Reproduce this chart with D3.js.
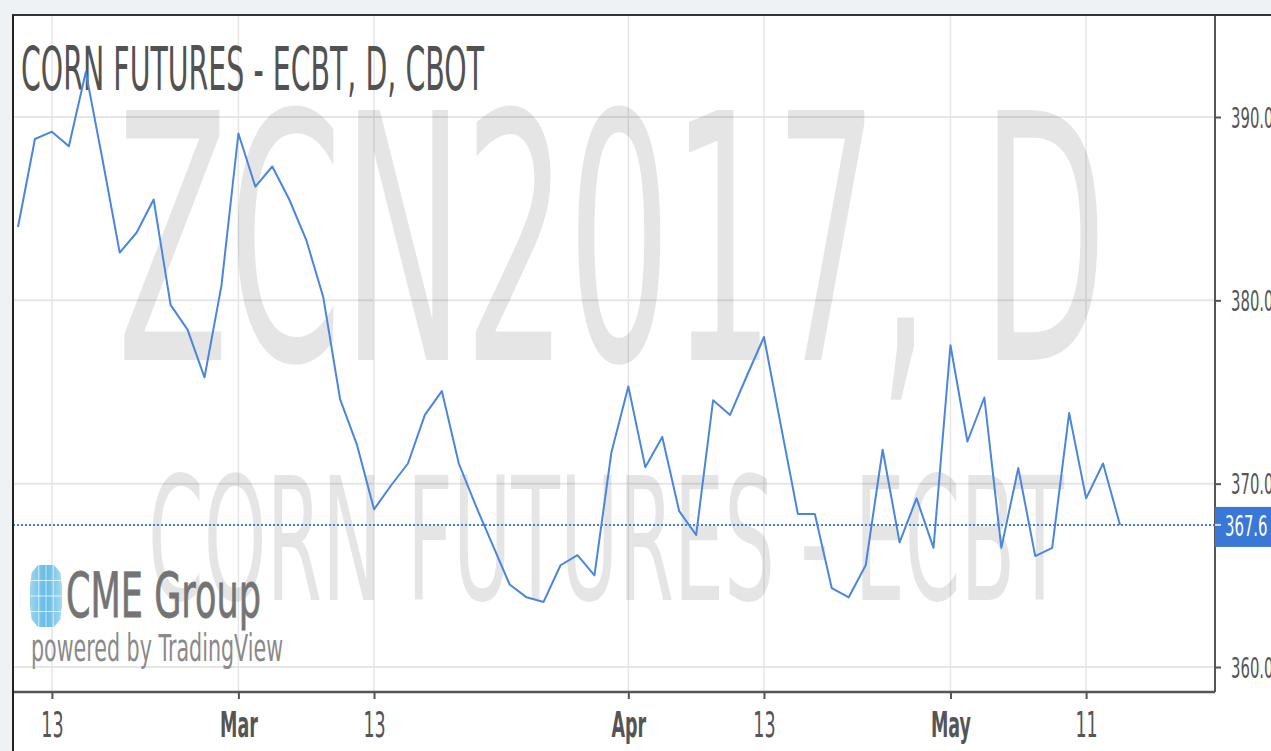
<!DOCTYPE html>
<html>
<head>
<meta charset="utf-8">
<script src="https://cdnjs.cloudflare.com/ajax/libs/d3/7.8.5/d3.min.js"></script>
<style>
    body { margin: 0; background: #eef2f5; }
    svg { display: block; font-family: "DejaVu Sans", sans-serif; }
</style>
</head>
<body>
<script>

    // trading days, Feb 9 - May 15 2017
    const dates = [
        '2017-02-09', '2017-02-10', '2017-02-13', '2017-02-14', '2017-02-15', '2017-02-16', '2017-02-17',
        '2017-02-21', '2017-02-22', '2017-02-23', '2017-02-24', '2017-02-27', '2017-02-28',
        '2017-03-01', '2017-03-02', '2017-03-03', '2017-03-06', '2017-03-07', '2017-03-08', '2017-03-09',
        '2017-03-10', '2017-03-13', '2017-03-14', '2017-03-15', '2017-03-16', '2017-03-17', '2017-03-20',
        '2017-03-21', '2017-03-22', '2017-03-23', '2017-03-24', '2017-03-27', '2017-03-28', '2017-03-29',
        '2017-03-30', '2017-03-31',
        '2017-04-03', '2017-04-04', '2017-04-05', '2017-04-06', '2017-04-07', '2017-04-10', '2017-04-11',
        '2017-04-12', '2017-04-13', '2017-04-17', '2017-04-18', '2017-04-19', '2017-04-20', '2017-04-21',
        '2017-04-24', '2017-04-25', '2017-04-26', '2017-04-27', '2017-04-28',
        '2017-05-01', '2017-05-02', '2017-05-03', '2017-05-04', '2017-05-05', '2017-05-08', '2017-05-09',
        '2017-05-10', '2017-05-11', '2017-05-12', '2017-05-15'
    ];

    const closes = [
        384.0, 388.8, 389.2, 388.4, 392.45, 387.6, 382.6,
        383.7, 385.5, 379.75, 378.4, 375.8, 380.8,
        389.1, 386.2, 387.3, 385.5, 383.3, 380.2, 374.6,
        372.1, 368.6, 369.9, 371.1, 373.75, 375.05, 371.1,
        368.8, 366.65, 364.5, 363.8, 363.55, 365.55, 366.1,
        365.0, 371.7,
        375.3, 370.9, 372.55, 368.5, 367.2, 374.55, 373.75,
        375.9, 378.0, 373.15, 368.35, 368.35, 364.3, 363.8,
        365.55, 371.85, 366.8, 369.2, 366.5,
        377.55, 372.3, 374.7, 366.5, 370.85, 366.05, 366.5,
        373.85, 369.2, 371.1, 367.75
    ];

    const xTickDates = ['2017-02-13', '2017-03-01', '2017-03-13', '2017-04-03', '2017-04-13', '2017-05-01', '2017-05-11'];
    const xTickLabels = ['13', 'Mar', '13', 'Apr', '13', 'May', '11'];
    const yTicks = [360, 370, 380, 390];

    const title = 'CORN FUTURES - ECBT, D, CBOT';
    const watermark1 = 'ZCN2017, D';
    const watermark2 = 'CORN FUTURES - ECBT';

    const measurements = {
        width: 1271,
        height: 751,
        left: 13,
        top: 15,
        right: 1215,
        bottom: 692
    };

    let svg = '';

    // grain prices are quoted in eighths: 367.75 -> 367'6
    function priceFormat(v) {
        let whole = Math.floor(v + 1e-9);
        let eighth = Math.round((v - whole) * 8);
        return whole + '.' + eighth;
    }

    // narrow a text horizontally, the screenshot is squeezed
    function squeeze(sel, k) {
        sel.each(function() {
            let w = this.getComputedTextLength();
            d3.select(this)
                .attr('textLength', w * k)
                .attr('lengthAdjust', 'spacingAndGlyphs');
        });
    }

    window.onload = function() {
        svg = d3.select('body')
            .append('svg')
            .attr('width', measurements.width)
            .attr('height', measurements.height);
        makeChart();
    }

    function makeChart() {
        const m = measurements;

        let x = d3.scalePoint()
            .domain(dates)
            .range([18, 1120]);

        let y = d3.scaleLinear()
            .domain([360, 390])
            .range([667, 117]);

        // page + frame
        svg.append('rect')
            .attr('width', m.width).attr('height', m.height)
            .attr('fill', '#eef2f5');
        svg.append('rect')
            .attr('x', m.left).attr('y', m.top)
            .attr('width', m.width - m.left).attr('height', m.height - m.top)
            .attr('fill', '#fff');

        // grid
        let grid = svg.append('g');
        grid.selectAll('.hg')
            .data(yTicks)
            .enter()
            .append('line')
            .attr('x1', m.left).attr('x2', m.right)
            .attr('y1', d => y(d)).attr('y2', d => y(d))
            .attr('stroke', '#e6e6e6').attr('stroke-width', 2);
        grid.selectAll('.vg')
            .data(xTickDates)
            .enter()
            .append('line')
            .attr('x1', d => x(d)).attr('x2', d => x(d))
            .attr('y1', m.top).attr('y2', m.bottom)
            .attr('stroke', '#e6e6e6').attr('stroke-width', 1.5);

        // watermark
        svg.append('text')
            .attr('x', 117).attr('y', 360)
            .attr('font-size', 343)
            .attr('textLength', 990)
            .attr('lengthAdjust', 'spacingAndGlyphs')
            .attr('fill', 'rgba(0,0,0,0.1)')
            .text(watermark1);
        svg.append('text')
            .attr('x', 148).attr('y', 600)
            .attr('font-size', 171)
            .attr('textLength', 916)
            .attr('lengthAdjust', 'spacingAndGlyphs')
            .attr('fill', 'rgba(0,0,0,0.1)')
            .text(watermark2);

        // title
        svg.append('text')
            .attr('x', 21).attr('y', 90)
            .attr('font-size', 60)
            .attr('textLength', 463)
            .attr('lengthAdjust', 'spacingAndGlyphs')
            .attr('fill', '#525252')
            .text(title);

        // logo
        makeLogo();

        // last price dotted line
        let last = closes[closes.length - 1];
        svg.append('line')
            .attr('x1', m.left).attr('x2', m.right)
            .attr('y1', y(last)).attr('y2', y(last))
            .attr('stroke', '#3f7edb')
            .attr('stroke-width', 2)
            .attr('stroke-dasharray', '2,2');

        // price line
        let line = d3.line()
            .x((d, i) => x(dates[i]))
            .y(d => y(d));
        svg.append('path')
            .datum(closes)
            .attr('d', line)
            .attr('fill', 'none')
            .attr('stroke', '#4a86dd')
            .attr('stroke-width', 2)
            .attr('stroke-linejoin', 'round');

        // right axis
        let yAxis = d3.axisRight(y)
            .tickValues(yTicks)
            .tickSize(6)
            .tickPadding(10)
            .tickFormat(priceFormat);
        let ya = svg.append('g')
            .attr('transform', 'translate(' + m.right + ',0)')
            .call(yAxis);
        ya.select('.domain').remove();
        ya.selectAll('line').attr('stroke', '#555').attr('stroke-width', 2);
        ya.selectAll('text')
            .attr('font-size', 28)
            .attr('font-family', '"DejaVu Sans", sans-serif')
            .attr('fill', '#555')
            .attr('dy', '0.36em')
            .call(squeeze, 0.53);

        // bottom axis
        let xAxis = d3.axisBottom(x)
            .tickValues(xTickDates)
            .tickSize(7)
            .tickFormat((d, i) => xTickLabels[i]);
        let xa = svg.append('g')
            .attr('transform', 'translate(0,' + m.bottom + ')')
            .call(xAxis);
        xa.select('.domain').remove();
        xa.selectAll('line').attr('stroke', '#555').attr('stroke-width', 2);
        xa.selectAll('text')
            .attr('font-size', 35)
            .attr('font-family', '"DejaVu Sans", sans-serif')
            .attr('fill', '#555')
            .attr('font-weight', d => /^\d+$/.test(xTickLabels[xTickDates.indexOf(d)]) ? 'normal' : 'bold')
            .attr('y', 20)
            .attr('dy', '0.71em')
            .call(squeeze, 0.5);

        // axis lines and frame borders
        svg.append('line')
            .attr('x1', m.left).attr('x2', m.right)
            .attr('y1', m.bottom).attr('y2', m.bottom)
            .attr('stroke', '#555').attr('stroke-width', 2.5);
        svg.append('line')
            .attr('x1', m.right).attr('x2', m.right)
            .attr('y1', m.top).attr('y2', m.bottom)
            .attr('stroke', '#555').attr('stroke-width', 2);
        svg.append('line')
            .attr('x1', m.left - 1).attr('x2', m.width)
            .attr('y1', m.top).attr('y2', m.top)
            .attr('stroke', '#333').attr('stroke-width', 2);
        svg.append('line')
            .attr('x1', m.left).attr('x2', m.left)
            .attr('y1', m.top).attr('y2', m.height)
            .attr('stroke', '#222').attr('stroke-width', 2);

        // last price badge
        let badge = svg.append('g')
            .attr('transform', 'translate(' + m.right + ',' + y(last) + ')');
        badge.append('rect')
            .attr('x', 0).attr('y', -18)
            .attr('width', m.width - m.right).attr('height', 40)
            .attr('fill', '#3a78d8');
        badge.append('line')
            .attr('x1', 0).attr('x2', 6)
            .attr('stroke', '#cfe0f7').attr('stroke-width', 2);
        badge.append('text')
            .attr('x', 10)
            .attr('dy', '0.4em')
            .attr('font-size', 28)
            .attr('fill', '#fff')
            .text(priceFormat(last))
            .call(squeeze, 0.53);
    }

    function makeLogo() {
        let logo = svg.append('g');

        let grad = svg.append('defs')
            .append('linearGradient')
            .attr('id', 'globe')
            .attr('x1', 0).attr('x2', 1).attr('y1', 0).attr('y2', 0);
        grad.append('stop').attr('offset', 0).attr('stop-color', '#9ad5f0');
        grad.append('stop').attr('offset', 0.5).attr('stop-color', '#62bbe6');
        grad.append('stop').attr('offset', 1).attr('stop-color', '#a6daf2');

        // octagon-ish globe
        let cx = 46, cy = 596, rx = 16, ry = 31;
        let pts = [[-0.5, -1], [0.5, -1], [0.9, -0.75], [1, -0.3], [1, 0.3], [0.9, 0.75], [0.5, 1],
                   [-0.5, 1], [-0.9, 0.75], [-1, 0.3], [-1, -0.3], [-0.9, -0.75]]
            .map(p => [cx + p[0] * rx, cy + p[1] * ry]);
        logo.append('path')
            .attr('d', d3.line()(pts) + 'Z')
            .attr('fill', 'url(#globe)');
        [-0.5, 0, 0.5].forEach(f => {
            logo.append('line')
                .attr('x1', cx - rx).attr('x2', cx + rx)
                .attr('y1', cy + f * ry).attr('y2', cy + f * ry)
                .attr('stroke', '#fff').attr('stroke-width', 1).attr('opacity', 0.7);
        });
        [-0.45, 0, 0.45].forEach(f => {
            logo.append('line')
                .attr('x1', cx + f * rx).attr('x2', cx + f * rx)
                .attr('y1', cy - ry).attr('y2', cy + ry)
                .attr('stroke', '#fff').attr('stroke-width', 1).attr('opacity', 0.7);
        });

        logo.append('text')
            .attr('x', 66).attr('y', 617)
            .attr('font-size', 63)
            .attr('textLength', 195)
            .attr('lengthAdjust', 'spacingAndGlyphs')
            .attr('fill', '#747474')
            .attr('stroke', '#747474')
            .attr('stroke-width', 0.8)
            .text('CME Group');
        logo.append('text')
            .attr('x', 31).attr('y', 661)
            .attr('font-size', 37)
            .attr('textLength', 252)
            .attr('lengthAdjust', 'spacingAndGlyphs')
            .attr('fill', '#8a8a8a')
            .text('powered by TradingView');
    }

</script>
</body>
</html>
